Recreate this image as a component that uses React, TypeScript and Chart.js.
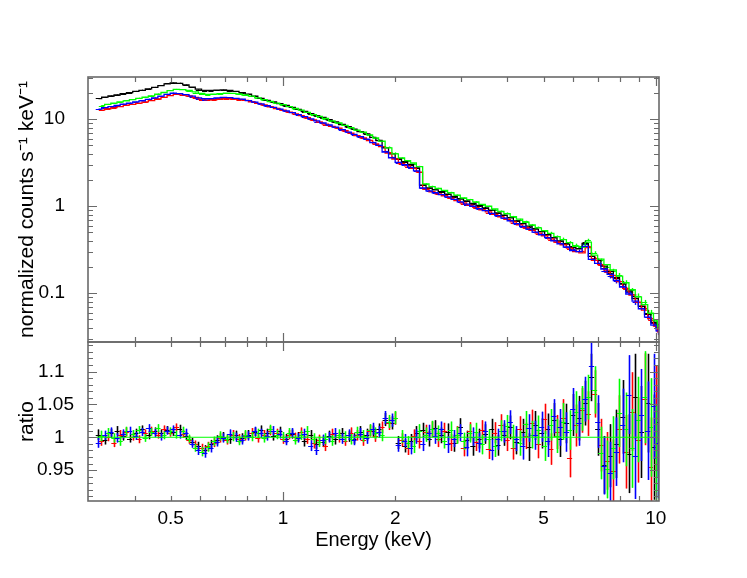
import React, { useEffect, useRef } from "react";
import { Chart, registerables } from "chart.js";
Chart.register(...registerables);

// ---------- data ----------
const energyA = [
  0.320, 0.333, 0.346, 0.359, 0.373, 0.388, 0.403, 0.419, 0.436, 0.453,
  0.471, 0.489, 0.508, 0.528, 0.549, 0.571, 0.593, 0.617, 0.641, 0.666,
  0.692, 0.720, 0.748, 0.777, 0.808, 0.840, 0.873, 0.907, 0.943, 0.980,
  1.02, 1.06, 1.10, 1.14, 1.19, 1.23, 1.28, 1.33, 1.38, 1.44,
  1.50, 1.55, 1.61, 1.68, 1.74, 1.81, 1.88, 1.96, 2.04, 2.12,
  2.20, 2.28, 2.37, 2.47, 2.56, 2.66, 2.77, 2.88, 2.99, 3.11,
  3.23, 3.36, 3.49, 3.63, 3.77, 3.92, 4.07, 4.23, 4.40, 4.57,
  4.75, 4.94, 5.13, 5.33, 5.54, 5.76, 5.99, 6.22, 6.47, 6.72,
  6.99, 7.26, 7.55, 7.84, 8.15, 8.47, 8.81, 9.15, 9.51, 9.89,
  10.15,
];
const energyB = [
  0.326, 0.339, 0.352, 0.366, 0.380, 0.395, 0.411, 0.427, 0.444, 0.462,
  0.480, 0.498, 0.518, 0.538, 0.560, 0.582, 0.605, 0.629, 0.653, 0.679,
  0.706, 0.734, 0.762, 0.792, 0.824, 0.856, 0.890, 0.925, 0.961, 1.00,
  1.04, 1.08, 1.12, 1.16, 1.21, 1.25, 1.30, 1.35, 1.41, 1.47,
  1.52, 1.58, 1.64, 1.71, 1.77, 1.84, 1.92, 2.00, 2.08, 2.16,
  2.24, 2.32, 2.42, 2.51, 2.61, 2.71, 2.82, 2.93, 3.05, 3.17,
  3.29, 3.42, 3.56, 3.70, 3.84, 3.99, 4.15, 4.31, 4.48, 4.66,
  4.84, 5.03, 5.23, 5.43, 5.65, 5.87, 6.10, 6.34, 6.59, 6.85,
  7.12, 7.40, 7.69, 7.99, 8.31, 8.64, 8.98, 9.33, 9.70, 10.02,
  10.19,
];

const modelBlack = [
  17.3, 18.0, 18.5, 19.0, 19.7, 20.2, 20.9, 21.5, 22.3, 23.2,
  24.3, 25.5, 26.2, 25.8, 24.8, 23.4, 22.2, 21.5, 21.5, 21.6,
  21.7, 21.4, 20.9, 20.2, 19.4, 18.4, 17.4, 16.5, 15.8, 15.1,
  14.4, 13.7, 13.0, 12.3, 11.6, 11.0, 10.5, 9.9, 9.3, 8.7,
  8.2, 7.7, 7.2, 6.8, 6.2, 5.7, 4.7, 4.0, 3.5, 3.25,
  3.03, 2.76, 1.75, 1.62, 1.54, 1.47, 1.38, 1.30, 1.21, 1.15,
  1.08, 1.02, 0.96, 0.90, 0.84, 0.79, 0.735, 0.68, 0.63, 0.59,
  0.545, 0.51, 0.47, 0.432, 0.40, 0.367, 0.335, 0.324, 0.373, 0.265,
  0.238, 0.205, 0.178, 0.151, 0.127, 0.106, 0.087, 0.071, 0.057, 0.046,
  0.040,
];
const modelRed = [
  12.7, 13.2, 13.6, 14.0, 14.5, 14.8, 15.3, 15.8, 16.4, 17.1,
  17.8, 18.7, 19.3, 19.1, 18.6, 17.8, 17.1, 16.7, 16.8, 17.1,
  17.3, 17.2, 16.9, 16.5, 15.9, 15.2, 14.6, 13.9, 13.3, 12.7,
  12.1, 11.5, 11.0, 10.4, 9.8, 9.3, 8.8, 8.3, 7.9, 7.4,
  6.9, 6.5, 6.1, 5.7, 5.2, 4.85, 4.07, 3.49, 3.10, 2.91,
  2.72, 2.47, 1.57, 1.46, 1.39, 1.32, 1.24, 1.16, 1.09, 1.03,
  0.97, 0.91, 0.86, 0.805, 0.757, 0.708, 0.66, 0.611, 0.567, 0.529,
  0.49, 0.456, 0.422, 0.388, 0.359, 0.33, 0.301, 0.291, 0.335, 0.238,
  0.213, 0.184, 0.160, 0.136, 0.114, 0.095, 0.079, 0.064, 0.051, 0.042,
  0.036,
];
const modelGreen = [
  14.3, 14.8, 15.3, 15.8, 16.3, 16.8, 17.4, 18.0, 18.6, 19.4,
  20.3, 21.3, 22.1, 21.9, 21.4, 20.6, 19.8, 19.3, 19.4, 19.7,
  19.9, 19.8, 19.5, 19.0, 18.4, 17.6, 16.8, 16.0, 15.3, 14.7,
  14.0, 13.3, 12.7, 12.0, 11.3, 10.8, 10.2, 9.6, 9.1, 8.5,
  8.0, 7.5, 7.1, 6.6, 6.1, 5.6, 4.7, 4.0, 3.6, 3.35,
  3.14, 2.86, 1.81, 1.68, 1.60, 1.52, 1.43, 1.34, 1.25, 1.19,
  1.12, 1.05, 1.00, 0.93, 0.87, 0.82, 0.76, 0.71, 0.655, 0.61,
  0.565, 0.525, 0.487, 0.448, 0.414, 0.381, 0.347, 0.336, 0.386, 0.274,
  0.246, 0.213, 0.185, 0.157, 0.132, 0.110, 0.091, 0.074, 0.059, 0.048,
  0.041,
];
const modelBlue = [
  13.1, 13.6, 14.0, 14.4, 14.9, 15.3, 15.8, 16.3, 16.9, 17.6,
  18.4, 19.3, 19.9, 19.7, 19.2, 18.4, 17.6, 17.2, 17.3, 17.6,
  17.8, 17.7, 17.4, 17.0, 16.4, 15.7, 15.0, 14.3, 13.7, 13.1,
  12.5, 11.9, 11.3, 10.7, 10.1, 9.6, 9.1, 8.6, 8.1, 7.6,
  7.1, 6.7, 6.3, 5.9, 5.4, 5.0, 4.2, 3.6, 3.2, 3.0,
  2.8, 2.55, 1.62, 1.50, 1.43, 1.36, 1.28, 1.20, 1.12, 1.06,
  1.00, 0.94, 0.89, 0.83, 0.78, 0.73, 0.68, 0.63, 0.585, 0.545,
  0.505, 0.47, 0.435, 0.40, 0.37, 0.34, 0.31, 0.30, 0.345, 0.245,
  0.22, 0.19, 0.165, 0.14, 0.118, 0.098, 0.081, 0.066, 0.053, 0.043,
  0.037,
];

const ratioBlack = [
  1.004, 0.996, 1.006, 1.010, 1.002, 0.998, 1.007, 1.012, 1.003, 1.009, 1.006, 1.011,
  1.008, 1.013, 1.002, 0.993, 0.986, 0.981, 0.989, 0.996, 1.001, 0.997, 1.003, 0.999,
  1.004, 1.008, 1.011, 1.006, 1.002, 1.009, 0.998, 1.005, 1.001, 0.994, 1.003, 0.990,
  0.993, 1.002, 0.997, 1.006, 1.001, 0.998, 1.008, 1.004, 1.009, 1.012, 1.027, 1.022,
  0.992, 0.987, 0.995, 1.006, 1.011, 0.998, 1.014, 1.003, 1.008, 0.991, 1.016, 0.996,
  0.986, 0.998, 1.005, 1.012, 0.988, 1.004, 1.015, 0.993, 1.008, 0.985, 1.018, 1.006,
  1.012, 1.026, 0.998, 1.021, 1.034, 1.029, 1.052, 1.091, 1.012, 0.958, 0.972, 0.990,
  1.031, 0.975, 1.062, 1.008, 1.052, 0.985, 1.024,
];
const ratioRed = [
  0.995, 1.001, 0.992, 1.004, 1.008, 1.001, 0.997, 1.006, 1.010, 1.004, 1.012, 1.007,
  1.015, 1.005, 0.996, 0.989, 0.983, 0.986, 0.992, 0.999, 0.996, 1.004, 0.998, 1.002,
  1.007, 0.999, 1.004, 1.010, 1.006, 0.997, 1.004, 1.000, 1.008, 0.998, 0.991, 0.996,
  0.987, 1.005, 1.000, 0.995, 1.007, 1.003, 0.996, 1.010, 1.002, 1.015, 1.021, 1.029,
  0.996, 0.983, 1.002, 0.994, 1.008, 1.012, 0.997, 1.010, 0.992, 1.004, 0.984, 1.009,
  0.993, 1.011, 0.982, 1.007, 1.019, 0.996, 0.984, 1.013, 1.002, 1.021, 0.990, 1.028,
  0.982, 1.008, 1.030, 0.969, 1.018, 1.041, 1.036, 1.066, 0.988, 0.964, 0.949, 1.012,
  0.978, 1.039, 0.996, 1.058, 0.955, 1.030, 0.951,
];
const ratioGreen = [
  1.002, 1.007, 0.999, 0.994, 1.009, 1.005, 1.011, 0.999, 1.008, 1.014, 1.003, 1.009,
  1.004, 1.010, 0.998, 0.984, 0.978, 0.985, 0.994, 1.002, 0.998, 1.001, 0.995, 1.004,
  1.001, 1.006, 0.999, 1.012, 1.004, 1.001, 1.007, 0.996, 1.003, 1.009, 0.998, 0.993,
  0.998, 0.995, 1.004, 1.001, 0.997, 1.008, 1.002, 1.011, 1.006, 1.003, 1.024, 1.030,
  1.001, 0.992, 0.986, 1.009, 1.004, 1.013, 1.006, 0.995, 1.011, 1.003, 0.994, 1.006,
  1.008, 0.989, 0.997, 0.986, 1.010, 1.017, 1.001, 0.991, 1.020, 1.004, 1.011, 0.987,
  1.019, 1.002, 1.024, 1.011, 1.038, 1.044, 1.061, 1.072, 0.976, 0.951, 0.984, 1.037,
  1.012, 0.983, 1.027, 1.061, 1.015, 0.968, 1.041,
];
const ratioBlue = [
  0.992, 1.003, 1.008, 0.999, 1.005, 1.010, 1.002, 1.008, 1.014, 1.006, 1.001, 1.010,
  1.012, 1.004, 1.007, 0.990, 0.980, 0.976, 0.984, 0.993, 0.999, 1.005, 1.000, 0.996,
  1.002, 1.009, 1.006, 1.002, 1.010, 1.005, 0.995, 1.007, 0.999, 1.005, 0.987, 0.981,
  0.996, 1.000, 1.006, 0.998, 1.004, 0.996, 1.005, 0.999, 1.013, 1.008, 1.030, 1.026,
  0.988, 0.995, 0.984, 1.001, 0.990, 1.007, 1.002, 1.012, 0.989, 0.998, 1.007, 0.985,
  1.001, 0.992, 1.009, 0.981, 0.997, 1.009, 1.023, 0.998, 0.986, 1.014, 1.003, 1.016,
  0.994, 1.032, 1.015, 1.008, 1.043, 1.021, 1.058, 1.108, 1.024, 0.957, 0.945, 0.978,
  1.018, 1.065, 0.971, 1.034, 1.010, 1.047, 0.992,
];
const ratioErr = [
  0.008, 0.007, 0.007, 0.007, 0.007, 0.006, 0.006, 0.006, 0.006, 0.006, 0.006, 0.006,
  0.006, 0.006, 0.006, 0.006, 0.007, 0.007, 0.007, 0.007, 0.007, 0.007, 0.007, 0.007,
  0.007, 0.007, 0.007, 0.007, 0.007, 0.007, 0.007, 0.007, 0.007, 0.008, 0.008, 0.008,
  0.008, 0.008, 0.008, 0.008, 0.008, 0.008, 0.009, 0.009, 0.009, 0.009, 0.010, 0.010,
  0.010, 0.010, 0.010, 0.011, 0.011, 0.012, 0.012, 0.012, 0.013, 0.013, 0.013, 0.014,
  0.014, 0.015, 0.015, 0.016, 0.016, 0.017, 0.018, 0.019, 0.020, 0.021, 0.022, 0.023,
  0.024, 0.026, 0.028, 0.030, 0.032, 0.034, 0.034, 0.036, 0.040, 0.044, 0.048, 0.052,
  0.056, 0.060, 0.065, 0.070, 0.075, 0.080, 0.085,
];

const xTickValues = [0.5, 1, 2, 5, 10];
const countTickValues = [0.1, 1, 10];
const ratioTickValues = [0.95, 1, 1.05, 1.1];
const unityLine = [1, 1];

// ---------- layout / style ----------
const FONT = "'Liberation Sans', Arial, Helvetica, sans-serif";
const X_MIN = 0.316;
const X_MAX = 10.2;
const Y_MIN = 0.0275;
const Y_MAX = 30.6;
const R_MIN = 0.903;
const R_MAX = 1.145;
const FRAME = "#6a6a6a";

type Series = { color: string; energy: number[]; model: number[]; ratio: number[] };
const series: Series[] = [
  { color: "#000000", energy: energyA, model: modelBlack, ratio: ratioBlack },
  { color: "#ff0000", energy: energyB, model: modelRed, ratio: ratioRed },
  { color: "#00ff00", energy: energyB, model: modelGreen, ratio: ratioGreen },
  { color: "#0000ff", energy: energyA, model: modelBlue, ratio: ratioBlue },
];

function binEdges(e: number[]) {
  const lo: number[] = [];
  const hi: number[] = [];
  for (let i = 0; i < e.length; i++) {
    const l = i > 0 ? Math.sqrt(e[i - 1] * e[i]) : (e[0] * e[0]) / Math.sqrt(e[0] * e[1]);
    const h =
      i < e.length - 1 ? Math.sqrt(e[i] * e[i + 1]) : (e[i] * e[i]) / Math.sqrt(e[i - 1] * e[i]);
    lo.push(l);
    hi.push(h);
  }
  return { lo, hi };
}

function crossPlugin(mode: "counts" | "ratio") {
  return {
    id: "crosses-" + mode,
    beforeDatasetsDraw(chart: any) {
      const { ctx, chartArea: a, scales } = chart;
      const xs = scales.x;
      const ys = scales.y;
      ctx.save();
      ctx.beginPath();
      ctx.rect(a.left, a.top, a.right - a.left, a.bottom - a.top);
      ctx.clip();
      for (const s of series) {
        const { lo, hi } = binEdges(s.energy);
        const halo = new Path2D();
        const main = new Path2D();
        for (let i = 0; i < s.energy.length; i++) {
          const val = mode === "ratio" ? s.ratio[i] : s.model[i] * s.ratio[i];
          const err = mode === "ratio" ? ratioErr[i] : s.model[i] * ratioErr[i];
          const xc = Math.round(xs.getPixelForValue(s.energy[i])) + 0.5;
          const x0 = xs.getPixelForValue(lo[i]) + 0.5;
          const x1 = xs.getPixelForValue(hi[i]) - 0.5;
          const yc = Math.round(ys.getPixelForValue(val)) + 0.5;
          const y0 = ys.getPixelForValue(val - err);
          const y1 = ys.getPixelForValue(val + err);
          halo.moveTo(xc, y0);
          halo.lineTo(xc, y1);
          main.moveTo(x0, yc);
          main.lineTo(x1, yc);
          main.moveTo(xc, y0);
          main.lineTo(xc, y1);
        }
        ctx.strokeStyle = s.color;
        ctx.globalAlpha = mode === "ratio" ? 0.3 : 0.2;
        ctx.lineWidth = 3;
        ctx.stroke(halo);
        ctx.globalAlpha = 1;
        ctx.lineWidth = 1;
        ctx.stroke(main);
      }
      ctx.restore();
    },
  };
}

function framePlugin(kind: "log" | "lin") {
  return {
    id: "frame-" + kind,
    afterDraw(chart: any) {
      const { ctx, chartArea: a, scales } = chart;
      const xs = scales.x;
      const ys = scales.y;
      ctx.save();
      ctx.strokeStyle = FRAME;
      ctx.lineWidth = 1.2;
      ctx.beginPath();
      for (const d of [0.1, 1, 10]) {
        for (let k = 1; k <= 9; k++) {
          const v = k * d;
          if (v < X_MIN || v > X_MAX) continue;
          const px = Math.round(xs.getPixelForValue(v)) + 0.5;
          const len = k === 1 ? 9 : 5;
          ctx.moveTo(px, a.bottom);
          ctx.lineTo(px, a.bottom - len);
          ctx.moveTo(px, a.top);
          ctx.lineTo(px, a.top + len);
        }
      }
      if (kind === "log") {
        for (const d of [0.01, 0.1, 1, 10]) {
          for (let k = 1; k <= 9; k++) {
            const v = k * d;
            if (v < Y_MIN || v > Y_MAX) continue;
            const py = Math.round(ys.getPixelForValue(v)) + 0.5;
            const len = k === 1 ? 9 : 5;
            ctx.moveTo(a.left, py);
            ctx.lineTo(a.left + len, py);
            ctx.moveTo(a.right, py);
            ctx.lineTo(a.right - len, py);
          }
        }
      } else {
        for (let i = Math.ceil(R_MIN * 100); i <= Math.floor(R_MAX * 100); i++) {
          const py = Math.round(ys.getPixelForValue(i / 100)) + 0.5;
          const len = i % 5 === 0 ? 9 : 5;
          ctx.moveTo(a.left, py);
          ctx.lineTo(a.left + len, py);
          ctx.moveTo(a.right, py);
          ctx.lineTo(a.right - len, py);
        }
      }
      ctx.stroke();
      ctx.lineWidth = 1.6;
      ctx.strokeRect(a.left, a.top, a.right - a.left, a.bottom - a.top);
      ctx.restore();
    },
  };
}

const tickFont = { family: FONT, size: 19 };
const xTitleFont = { family: FONT, size: 20 };
const yTitleFont = { family: FONT, size: 21 };

const fitY = (s: any) => {
  s.width = 88;
  s.paddingTop = 0;
  s.paddingBottom = 0;
};
const fitX = (s: any) => {
  s.height = 77;
  s.paddingLeft = 0;
  s.paddingRight = 0;
};

function topConfig(): any {
  const ordered = [series[3], series[2], series[1], series[0]];
  return {
    type: "line",
    data: {
      datasets: ordered.map((s) => ({
        data: s.energy.map((e, i) => ({ x: e, y: s.model[i] })),
        borderColor: s.color,
        borderWidth: 1.3,
        pointRadius: 0,
        stepped: "middle",
        fill: false,
      })),
    },
    options: {
      animation: false,
      responsive: false,
      events: [],
      layout: { padding: { left: 0, right: 88, top: 77, bottom: 2 } },
      plugins: { legend: { display: false }, tooltip: { enabled: false } },
      scales: {
        x: { type: "logarithmic", min: X_MIN, max: X_MAX, display: false },
        y: {
          type: "logarithmic",
          position: "left",
          min: Y_MIN,
          max: Y_MAX,
          afterFit: fitY,
          afterBuildTicks: (s: any) => {
            s.ticks = countTickValues.map((v) => ({ value: v }));
          },
          grid: { display: false },
          border: { display: false },
          ticks: { padding: 15, color: "#000", font: tickFont, callback: (v: any) => String(v) },
          title: {
            display: true,
            text: "normalized counts s\u207B\u00B9 keV\u207B\u00B9",
            color: "#000",
            font: yTitleFont,
            padding: { top: 15, bottom: 0 },
          },
        },
      },
    },
    plugins: [crossPlugin("counts"), framePlugin("log")],
  };
}

function bottomConfig(): any {
  return {
    type: "line",
    data: {
      datasets: [
        {
          data: [
            { x: X_MIN, y: unityLine[0] },
            { x: X_MAX, y: unityLine[1] },
          ],
          borderColor: "#00ff00",
          borderWidth: 1,
          pointRadius: 0,
          fill: false,
        },
        ...series.map((s) => ({
          data: s.energy.map((e, i) => ({ x: e, y: s.ratio[i] })),
          showLine: false,
          pointRadius: 0,
          borderColor: s.color,
        })),
      ],
    },
    options: {
      animation: false,
      responsive: false,
      events: [],
      layout: { padding: { left: 0, right: 88, top: 2, bottom: 0 } },
      plugins: { legend: { display: false }, tooltip: { enabled: false } },
      scales: {
        x: {
          type: "logarithmic",
          position: "bottom",
          min: X_MIN,
          max: X_MAX,
          afterFit: fitX,
          afterBuildTicks: (s: any) => {
            s.ticks = xTickValues.map((v) => ({ value: v }));
          },
          grid: { display: false },
          border: { display: false },
          ticks: {
            padding: -2,
            autoSkip: false,
            maxRotation: 0,
            color: "#000",
            font: tickFont,
            callback: (v: any) => String(v),
          },
          title: {
            display: true,
            text: "Energy (keV)",
            color: "#000",
            font: xTitleFont,
            padding: { top: 0, bottom: 26 },
          },
        },
        y: {
          type: "linear",
          position: "left",
          min: R_MIN,
          max: R_MAX,
          afterFit: fitY,
          afterBuildTicks: (s: any) => {
            s.ticks = ratioTickValues.map((v) => ({ value: v }));
          },
          grid: { display: false },
          border: { display: false },
          ticks: {
            padding: 6,
            color: "#000",
            font: tickFont,
            callback: (v: any) => {
              const n = Number(v);
              const txt = String(Math.round(n * 100) / 100);
              return txt.length >= 4 ? txt : txt + "\u2002";
            },
          },
          title: {
            display: true,
            text: "ratio",
            color: "#000",
            font: yTitleFont,
            padding: { top: 15, bottom: 0 },
          },
        },
      },
    },
    plugins: [crossPlugin("ratio"), framePlugin("lin")],
  };
}

export default function App() {
  const topRef = useRef<HTMLCanvasElement>(null);
  const botRef = useRef<HTMLCanvasElement>(null);
  useEffect(() => {
    const c1 = new Chart(topRef.current as HTMLCanvasElement, topConfig());
    const c2 = new Chart(botRef.current as HTMLCanvasElement, bottomConfig());
    return () => {
      c1.destroy();
      c2.destroy();
    };
  }, []);
  return (
    <div style={{ position: "absolute", left: 0, top: 0, width: 747, height: 578, background: "#fff" }}>
      <canvas ref={topRef} width={747} height={344} style={{ position: "absolute", left: 0, top: 0 }} />
      <canvas ref={botRef} width={747} height={238} style={{ position: "absolute", left: 0, top: 340 }} />
    </div>
  );
}
